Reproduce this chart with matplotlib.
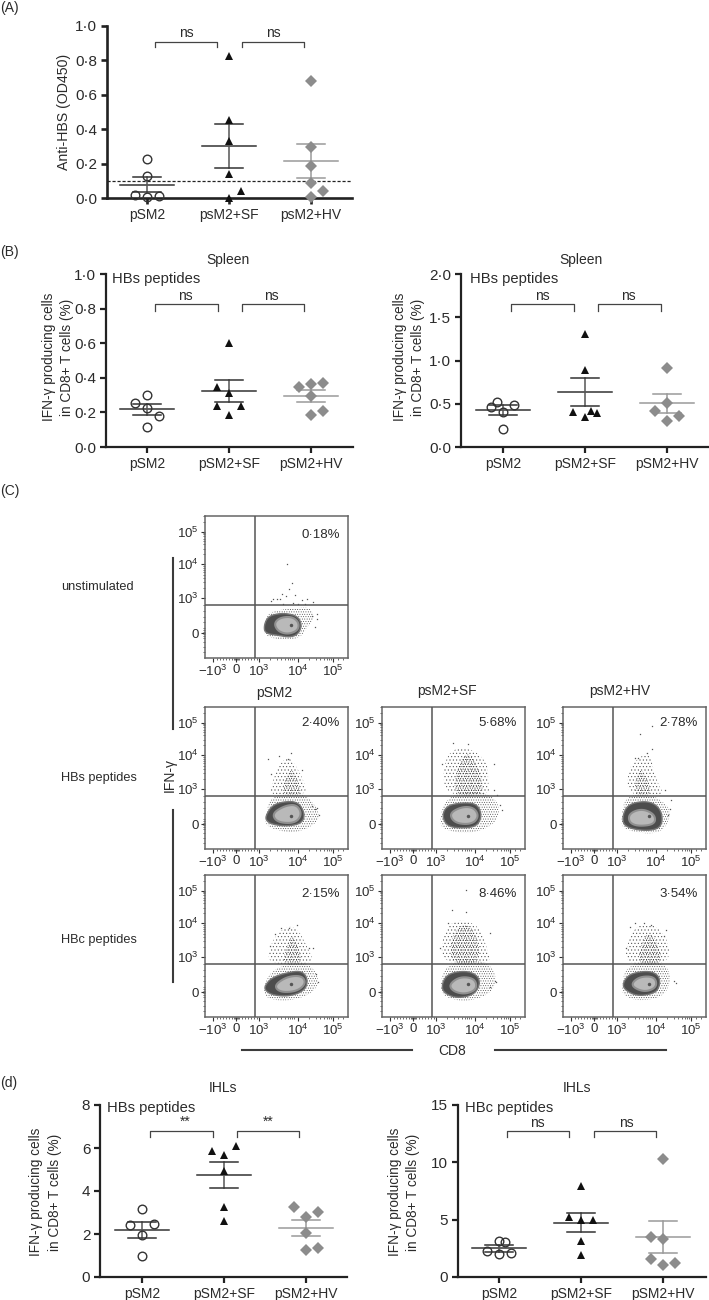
import numpy as np
import matplotlib
matplotlib.use("Agg")
import matplotlib.pyplot as plt
from matplotlib.patches import Polygon

plt.rcParams['font.family'] = ['Liberation Sans', 'DejaVu Sans']
plt.rcParams['mathtext.fontset'] = 'custom'
plt.rcParams['mathtext.rm'] = 'Liberation Sans'
plt.rcParams['mathtext.default'] = 'regular'
plt.rcParams['hatch.linewidth'] = 0.35
plt.rcParams['text.color'] = '#2b2b2b'

W, H = 709, 1300
TXT = '#2b2b2b'

# ------------------------------------------------------------------
# dot plots: values, x offsets, mean, sem top, sem bottom
groups = ['pSM2', 'psM2+SF', 'psM2+HV']
groups_b = ['pSM2', 'pSM2+SF', 'pSM2+HV']

a_vals = [[0.226, 0.13, 0.015, 0.005, 0.01],
          [0.825, 0.455, 0.33, 0.14, 0.0, 0.04],
          [0.68, 0.295, 0.185, 0.085, 0.005, 0.04]]
a_off = [[0, 0, -.146, 0, .146], [0, 0, 0, 0, 0, .15], [0, 0, 0, 0, 0, .146]]
a_mean = [0.077, 0.305, 0.215]
a_hi = [0.12, 0.43, 0.315]
a_lo = [0.035, 0.175, 0.115]

b1_vals = [[0.30, 0.257, 0.228, 0.178, 0.118],
           [0.603, 0.345, 0.313, 0.236, 0.236, 0.186],
           [0.362, 0.37, 0.348, 0.294, 0.209, 0.186]]
b1_off = [[0, -.15, 0, .15, 0], [0, -.15, 0, -.15, .15, 0], [0, .15, -.15, 0, .15, 0]]
b1_mean = [0.22, 0.325, 0.295]
b1_hi = [0.25, 0.388, 0.33]
b1_lo = [0.187, 0.263, 0.26]

b2_vals = [[0.205, 0.468, 0.526, 0.487, 0.41],
           [1.31, 0.89, 0.40, 0.35, 0.42, 0.395],
           [0.913, 0.51, 0.414, 0.305, 0.356]]
b2_off = [[0, -.145, -.07, .14, 0], [0, 0, -.145, 0, .07, .15], [0, 0, -.145, 0, .145]]
b2_mean = [0.425, 0.635, 0.505]
b2_hi = [0.48, 0.795, 0.615]
b2_lo = [0.37, 0.475, 0.395]

d1_vals = [[3.14, 2.41, 2.45, 1.94, 0.96],
           [5.87, 6.1, 5.67, 4.94, 3.26, 2.62],
           [3.26, 3.01, 2.8, 2.05, 1.27, 1.34]]
d1_off = [[0, -.145, .15, 0, 0], [-.15, .15, 0, 0, 0, 0], [-.15, .145, 0, 0, 0, .145]]
d1_mean = [2.17, 4.75, 2.28]
d1_hi = [2.54, 5.35, 2.63]
d1_lo = [1.8, 4.15, 1.93]

d2_vals = [[3.15, 3.05, 2.27, 1.98, 2.13],
           [7.92, 5.24, 4.95, 5.0, 3.15, 1.92],
           [10.25, 3.5, 3.3, 1.6, 1.08, 1.22]]
d2_off = [[0, .07, -.145, 0, .15], [0, -.145, 0, .15, 0, 0], [0, -.15, 0, -.15, 0, .145]]
d2_mean = [2.5, 4.75, 3.5]
d2_hi = [2.8, 5.6, 4.9]
d2_lo = [2.2, 3.9, 2.1]

a_ticks = [0, .2, .4, .6, .8, 1.0]
a_labels = ['0·0', '0·2', '0·4', '0·6', '0·8', '1·0']
b2_ticks = [0, .5, 1.0, 1.5, 2.0]
b2_labels = ['0·0', '0·5', '1·0', '1·5', '2·0']
d1_ticks = [0, 2, 4, 6, 8]
d2_ticks = [0, 5, 10, 15]

# flow panels, read in panel units (143 wide, 142 high)
p1_fuzz = [(59,31),(62,45),(75,49),(95,51),(105,51),(110,41),(102,31),(95,20),(78,18),(60,22)]
p1_blob = [(59,33),(63,42),(73,45),(83,45),(93,42),(97,33),(93,24),(85,21),(73,23),(60,25)]
p1_core = [(69,35),(75,41),(87,42),(94,36),(93,28),(83,24),(73,27)]
p1_plume = []
p1_plume2 = []
p1_dots = [(82,95),(87,76),(84,70),(77,65),(81,63),(68,60),(72,60),(75,60),(90,64),(97,59),(102,60),
           (108,57),(88,56),(78,55),(112,45),(112,40),(107,43),(110,31),(66,58),(93,55),(100,55)]

p2_fuzz = [(60,31),(65,52),(80,56),(100,56),(112,42),(115,30),(102,20),(85,16),(62,22)]
p2_blob = [(61,34),(67,44),(78,48),(93,48),(100,36),(97,26),(82,23),(67,25),(61,29)]
p2_core = [(67,36),(80,44),(92,45),(97,35),(90,26),(72,27)]
p2_plume = [(63,54),(68,69),(73,84),(83,94),(90,86),(98,71),(103,54)]
p2_plume2 = [(77,54),(80,72),(87,82),(93,69),(97,54)]
p2_dots = [(74,94),(63,91),(86,97),(83,91),(112,42),(114,34),(107,44),(110,41),(66,76),(97,80)]

p3_fuzz = [(58,30),(62,48),(78,58),(100,58),(115,50),(118,34),(108,22),(85,15),(60,20)]
p3_blob = [(60,34),(65,44),(80,47),(95,46),(100,34),(95,23),(80,21),(65,23)]
p3_core = [(67,36),(80,43),(92,42),(97,33),(90,25),(73,26)]
p3_plume = [(63,54),(61,84),(70,102),(90,102),(106,87),(106,69),(108,54)]
p3_plume2 = [(71,54),(75,82),(83,97),(91,94),(100,72),(101,54)]
p3_dots = [(71,107),(86,106),(60,86),(112,86),(118,45),(120,40),(115,55),(112,60)]

p4_fuzz = [(58,30),(62,54),(88,56),(105,44),(108,34),(100,18),(84,15),(60,20)]
p4_blob = [(59,32),(65,46),(87,49),(99,39),(99,22),(84,18),(62,22)]
p4_core = [(66,36),(79,41),(92,35),(92,25),(75,23),(66,27)]
p4_plume = [(64,54),(65,81),(75,92),(87,99),(90,82),(95,66),(102,54)]
p4_plume2 = [(70,54),(75,81),(82,77),(90,54)]
p4_dots = [(77,117),(89,125),(89,101),(84,97),(72,92),(75,92),(107,41),(105,34),(108,50),(102,60)]

p5_fuzz = [(58,28),(65,46),(85,55),(105,54),(115,38),(108,24),(85,16),(62,18)]
p5_blob = [(60,32),(67,40),(82,45),(97,47),(103,38),(100,27),(85,21),(68,22),(60,27)]
p5_core = [(69,32),(82,41),(97,42),(101,34),(92,26),(75,25)]
p5_plume = [(65,53),(63,67),(73,87),(90,94),(102,72),(110,53)]
p5_plume2 = [(77,53),(82,72),(87,84),(93,72),(98,53)]
p5_dots = [(76,90),(92,93),(70,84),(108,70),(104,70),(113,35),(111,44),(84,90),(65,72)]

p6_fuzz = [(58,30),(62,50),(80,58),(105,56),(115,42),(110,24),(85,15),(62,20)]
p6_blob = [(60,34),(66,44),(84,47),(96,42),(98,32),(91,22),(74,19),(61,25)]
p6_core = [(67,33),(78,41),(93,39),(95,28),(83,23),(71,26)]
p6_plume = [(59,53),(61,87),(76,100),(98,92),(104,72),(111,53)]
p6_plume2 = [(69,53),(69,82),(83,97),(96,82),(98,53)]
p6_dots = [(84,129),(70,109),(84,106),(113,37),(114,35),(108,30),(66,95),(58,70),(108,85)]

p7_fuzz = [(59,30),(62,50),(85,58),(105,52),(108,36),(100,20),(75,16),(60,22)]
p7_blob = [(60,35),(67,44),(86,47),(96,42),(97,32),(92,24),(74,21),(61,28)]
p7_core = [(67,32),(76,41),(92,41),(94,30),(81,25)]
p7_plume = [(62,53),(64,75),(74,94),(92,94),(106,77),(106,53)]
p7_plume2 = [(74,53),(79,77),(87,87),(96,72),(99,53)]
p7_dots = [(67,91),(72,95),(81,95),(88,93),(103,88),(101,82),(111,37),(113,34),(63,70)]

flow_rows = [
    (205, 516, p1_fuzz, p1_blob, p1_core, p1_plume, p1_plume2, p1_dots, '0·18%', 17),
    (205, 707, p2_fuzz, p2_blob, p2_core, p2_plume, p2_plume2, p2_dots, '2·40%', 14),
    (382, 707, p3_fuzz, p3_blob, p3_core, p3_plume, p3_plume2, p3_dots, '5·68%', 14),
    (563, 707, p4_fuzz, p4_blob, p4_core, p4_plume, p4_plume2, p4_dots, '2·78%', 14),
    (205, 875, p5_fuzz, p5_blob, p5_core, p5_plume, p5_plume2, p5_dots, '2·15%', 17),
    (382, 875, p6_fuzz, p6_blob, p6_core, p6_plume, p6_plume2, p6_dots, '8·46%', 17),
    (563, 875, p7_fuzz, p7_blob, p7_core, p7_plume, p7_plume2, p7_dots, '3·54%', 17),
]
flow_x_ticks = [8, 31, 54, 93, 128]
flow_x_labels = ['$-10^3$', '0', '$10^3$', '$10^4$', '$10^5$']
flow_y_ticks = [25, 61, 95, 128]
flow_y_labels = ['0', '$10^3$', '$10^4$', '$10^5$']

# ------------------------------------------------------------------
fig = plt.figure(figsize=(W / 100, H / 100), dpi=100)


def add_ax(l, t, r, b):
    return fig.add_axes([l / W, 1 - b / H, (r - l) / W, (b - t) / H])


def ftext(x, y, s, **kw):
    kw.setdefault('ha', 'center')
    kw.setdefault('va', 'center')
    kw.setdefault('fontsize', 10)
    fig.text(x / W, 1 - y / H, s, **kw)


def fline(xs, ys, lw=1.5, color='#3c3c3c'):
    fig.add_artist(plt.Line2D([x / W for x in xs], [1 - y / H for y in ys], lw=lw, color=color))


def smooth(pts, n=3):
    # corner cutting, the outlines were read as a few points only
    p = np.array(pts, dtype=float)
    for _ in range(n):
        q = np.roll(p, -1, axis=0)
        p = np.column_stack([.75 * p + .25 * q, .25 * p + .75 * q]).reshape(-1, 2)
    return p


def dotplot(box, cats, vals, off, mean, hi, lo, ymax, ticks, labels, lw=1.6):
    l, t, r, b, c0 = box
    ax = add_ax(l, t, r, b)
    ax.set_xlim((l - c0) / 82, (r - c0) / 82)
    ax.set_ylim(0, ymax)
    ax.patch.set_alpha(0)
    for s in ['top', 'right']:
        ax.spines[s].set_visible(False)
    for s in ['left', 'bottom']:
        ax.spines[s].set_linewidth(lw)
        ax.spines[s].set_color('#222222')
    ax.set_xticks(range(3))
    ax.set_xticklabels(cats, fontsize=10, color=TXT)
    ax.set_yticks(ticks)
    ax.set_yticklabels(labels, fontsize=11, color=TXT)
    ax.tick_params(axis='both', width=lw, length=4.5, color='#222222', pad=2.5)
    cols = ['#333333', '#333333', '#9a9a9a']
    for i in range(3):
        c = cols[i]
        ax.plot([i - .33, i + .33], [mean[i]] * 2, color=c, lw=1.1, zorder=4, clip_on=False)
        ax.plot([i, i], [lo[i], hi[i]], color='#555555' if i < 2 else c, lw=1.1, zorder=4, clip_on=False)
        for v in (lo[i], hi[i]):
            ax.plot([i - .17, i + .17], [v, v], color=c, lw=1.1, zorder=4, clip_on=False)
    for v, o in zip(vals[0], off[0]):
        ax.plot(0 + o, v, 'o', ms=6.2, mfc='none', mec='#333333', mew=1.0, zorder=5, clip_on=False)
    for v, o in zip(vals[1], off[1]):
        ax.plot(1 + o, v, '^', ms=6.4, color='#111111', mew=0, zorder=5, clip_on=False)
    for v, o in zip(vals[2], off[2]):
        ax.plot(2 + o, v, 'D', ms=6, color='#8c8c8c', mew=0, zorder=5, clip_on=False)
    return ax


def bracket(x0, x1, ytop, ybot, txt, ytxt, xtxt):
    fline([x0, x0, x1, x1], [ybot, ytop, ytop, ybot], lw=0.9, color='#444444')
    ftext(xtxt, ytxt, txt, fontsize=10)


# panel A
ax_a = dotplot((107, 26, 352, 198, 147), groups, a_vals, a_off, a_mean, a_hi, a_lo, 1.0, a_ticks, a_labels, lw=1.9)
ax_a.axhline(0.1, color='#222222', lw=0.9, ls=(0, (2.5, 1.5)), zorder=3)
ftext(0, 8, '(A)', ha='left')
ftext(64, 112, 'Anti-HBS (OD450)', rotation=90, fontsize=10.2)
bracket(155, 217, 42, 47, 'ns', 33, 186)
bracket(242, 304, 42, 47, 'ns', 33, 273)

# panel B
dotplot((106, 274, 353, 447, 147), groups_b, b1_vals, b1_off, b1_mean, b1_hi, b1_lo, 1.0, a_ticks, a_labels)
dotplot((461, 274, 708, 447, 503), groups_b, b2_vals, b2_off, b2_mean, b2_hi, b2_lo, 2.0, b2_ticks, b2_labels)
ftext(0, 252, '(B)', ha='left')
ftext(228, 260, 'Spleen')
ftext(581, 260, 'Spleen')
ftext(112, 279, 'HBs peptides', ha='left', fontsize=10.6)
ftext(470, 279, 'HBs peptides', ha='left', fontsize=10.6)
for x0, x1 in [(49, 67), (400, 418)]:
    ftext(x0, 357, 'IFN-γ producing cells', rotation=90, fontsize=9.8)
    ftext(x1, 357, 'in CD8+ T cells (%)', rotation=90, fontsize=9.8)
bracket(155, 218, 304, 311, 'ns', 296, 185)
bracket(242, 304, 304, 311, 'ns', 296, 271)
bracket(511, 574, 304, 311, 'ns', 296, 542)
bracket(598, 661, 304, 311, 'ns', 296, 628)

# panel d
dotplot((100, 1105, 347, 1277, 142), groups_b, d1_vals, d1_off, d1_mean, d1_hi, d1_lo, 8, d1_ticks, [str(v) for v in d1_ticks])
dotplot((458, 1105, 706, 1277, 499), groups_b, d2_vals, d2_off, d2_mean, d2_hi, d2_lo, 15, d2_ticks, [str(v) for v in d2_ticks])
ftext(0, 1083, '(d)', ha='left')
ftext(223, 1088, 'IHLs')
ftext(577, 1088, 'IHLs')
ftext(107, 1108, 'HBs peptides', ha='left', fontsize=10.6)
ftext(465, 1108, 'HBc peptides', ha='left', fontsize=10.6)
for x0, x1 in [(36, 55), (395, 413)]:
    ftext(x0, 1192, 'IFN-γ producing cells', rotation=90, fontsize=9.8)
    ftext(x1, 1192, 'in CD8+ T cells (%)', rotation=90, fontsize=9.8)
bracket(150, 213, 1131, 1137, '**', 1122, 185)
bracket(237, 299, 1131, 1137, '**', 1122, 268)
bracket(507, 569, 1131, 1137, 'ns', 1123, 537)
bracket(594, 656, 1131, 1137, 'ns', 1123, 626)

# panel C
y_minor = [v for base in (61, 95) for v in base + np.log10(np.arange(2, 10)) * 33.5]
y_minor += [128 + np.log10(v) * 33.5 for v in (2, 3)] + [30, 36, 42, 48, 54, 6, 11, 16, 20, 22, 24, 26, 28]
x_minor = [v for base in (54, 93) for v in base + np.log10(np.arange(2, 10)) * 37]
x_minor += [12, 15, 18, 21, 24, 27, 29, 30, 32, 33, 34, 37, 40, 43, 46, 49, 52, 133, 138]

for l, t, fuzz, blob, core, plume, plume2, dots, pct, py in flow_rows:
    ax = add_ax(l, t, l + 143, t + 142)
    ax.set_xlim(0, 143)
    ax.set_ylim(0, 142)
    for s in ax.spines.values():
        s.set_color('#666666')
        s.set_linewidth(1.1)
    ax.set_xticks(flow_x_ticks)
    ax.set_xticklabels(flow_x_labels, fontsize=9.5, color=TXT)
    ax.set_yticks(flow_y_ticks)
    ax.set_yticklabels(flow_y_labels, fontsize=9.5, color=TXT)
    ax.set_xticks(x_minor, minor=True)
    ax.set_yticks(y_minor, minor=True)
    ax.tick_params(which='major', length=3, width=0.8, color='#333333', pad=1.5)
    ax.tick_params(which='minor', length=1.5, width=0.5, color='#333333')
    if plume:
        ax.add_patch(Polygon(smooth(plume), fc='none', ec='#444444', hatch='.....', lw=0, zorder=1))
        ax.add_patch(Polygon(smooth(plume2), fc='none', ec='#222222', hatch='.......', lw=0, zorder=1))
    ax.add_patch(Polygon(smooth(fuzz), fc='none', ec='#444444', hatch='.......', lw=0, zorder=1))
    ax.add_patch(Polygon(smooth(blob), fc='#4d4d4d', ec='#777777', lw=1.0, zorder=2))
    ax.add_patch(Polygon(smooth(core), fc='#b9b9b9', ec='#909090', lw=1.5, zorder=3))
    ax.plot(*zip(*dots), ls='none', marker='s', ms=0.9, color='#555555', mew=0, zorder=2)
    ax.plot(86, 33, 'o', ms=2.5, color='#555555', mew=0, zorder=4)
    ax.axvline(50, color='#555555', lw=1.1, zorder=5)
    ax.axhline(54, color='#555555', lw=1.1, zorder=5)
    ax.text(135, 142 - py, pct, ha='right', va='center', fontsize=9.5, zorder=6)

ftext(0, 491, '(C)', ha='left')
ftext(61, 587, 'unstimulated', ha='left', fontsize=9.2)
ftext(61, 778, 'HBs peptides', ha='left', fontsize=9.2)
ftext(61, 940, 'HBc peptides', ha='left', fontsize=9.2)
ftext(170, 775, 'IFN-γ', rotation=90)
ftext(274, 693, 'pSM2')
ftext(447, 691, 'psM2+SF')
ftext(620, 691, 'psM2+HV')
ftext(452, 1051, 'CD8')
fline([173, 173], [558, 729])
fline([173, 173], [810, 982])
fline([242, 412], [1050, 1050])
fline([495, 666], [1050, 1050])

fig.savefig('out.png', dpi=100)
